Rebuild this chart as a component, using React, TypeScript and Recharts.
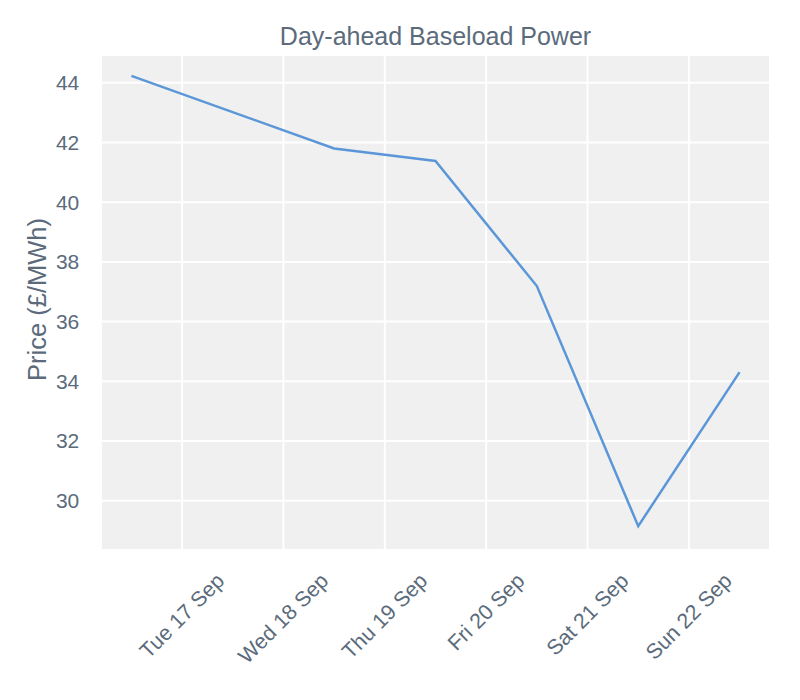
import { LineChart, Line, XAxis, YAxis, CartesianGrid, Label } from "recharts";

// day-ahead prices, one per delivery day (timestamped at midday)
const deliveryDates = [
  "2019-09-16T12:00:00Z",
  "2019-09-18T12:00:00Z",
  "2019-09-19T12:00:00Z",
  "2019-09-20T12:00:00Z",
  "2019-09-21T12:00:00Z",
  "2019-09-22T12:00:00Z",
];
const prices = [44.23, 41.8, 41.38, 37.19, 29.15, 34.31];

const tickDates = [
  "2019-09-17T00:00:00Z",
  "2019-09-18T00:00:00Z",
  "2019-09-19T00:00:00Z",
  "2019-09-20T00:00:00Z",
  "2019-09-21T00:00:00Z",
  "2019-09-22T00:00:00Z",
];
const tickLabels = [
  "Tue 17 Sep",
  "Wed 18 Sep",
  "Thu 19 Sep",
  "Fri 20 Sep",
  "Sat 21 Sep",
  "Sun 22 Sep",
];
const yTicks = [30, 32, 34, 36, 38, 40, 42, 44];
const yDomain = [28.35, 44.93];

const TEXT = "#5b6b7b";
const FONT = "'Liberation Sans', Arial, sans-serif";
const TICK_SIZE = 21.3;

const data = deliveryDates.map((d, i) => ({ t: Date.parse(d), price: prices[i] }));
const xTicks = tickDates.map((d) => Date.parse(d));
const times = data.map((d) => d.t);
const span = Math.max(...times) - Math.min(...times);
const xDomain = [Math.min(...times) - span * 0.05, Math.max(...times) + span * 0.05];

let ctx: CanvasRenderingContext2D | null = null;
function textWidth(s: string) {
  if (!ctx) ctx = document.createElement("canvas").getContext("2d");
  if (!ctx) return s.length * TICK_SIZE * 0.55;
  ctx.font = `${TICK_SIZE}px 'Liberation Sans'`;
  return ctx.measureText(s).width;
}

function DateTick(props: any) {
  const { x, y, payload } = props;
  const idx = xTicks.indexOf(payload.value);
  const label = idx >= 0 ? tickLabels[idx] : "";
  const h = (textWidth(label) + TICK_SIZE * 1.1) * Math.SQRT1_2;
  return (
    <text
      transform={`translate(${x}, ${y + h / 2}) rotate(-45)`}
      textAnchor="middle"
      dominantBaseline="central"
      fill={TEXT}
      fontSize={TICK_SIZE}
      fontFamily={FONT}
    >
      {label}
    </text>
  );
}

function YTitle(props: any) {
  const { viewBox } = props;
  const cx = viewBox.x + 36.7;
  const cy = viewBox.y + viewBox.height / 2 - 3;
  return (
    <text
      transform={`translate(${cx}, ${cy}) rotate(-90)`}
      textAnchor="middle"
      dominantBaseline="central"
      fill={TEXT}
      fontSize={25.5}
      fontFamily={FONT}
    >
      Price (£/MWh)
    </text>
  );
}

export default function App() {
  return (
    <div style={{ position: "absolute", left: 0, top: 0, width: 800, height: 700, background: "#fff" }}>
      <div
        style={{
          position: "absolute",
          left: 101,
          width: 669,
          top: 23.8,
          textAlign: "center",
          fontFamily: FONT,
          fontSize: 25,
          lineHeight: "25px",
          color: TEXT,
          whiteSpace: "nowrap",
        }}
      >
        Day-ahead Baseload Power
      </div>
      <LineChart width={800} height={700} data={data} margin={{ top: 55, right: 30, bottom: 0, left: 0 }}>
        <CartesianGrid stroke="#ffffff" strokeWidth={2} fill="#f0f0f0" fillOpacity={1} />
        <XAxis
          dataKey="t"
          type="number"
          scale="linear"
          domain={xDomain}
          ticks={xTicks}
          allowDataOverflow
          axisLine={false}
          tickLine={false}
          tickSize={0}
          tickMargin={19}
          height={150}
          interval={0}
          tick={<DateTick />}
        />
        <YAxis
          type="number"
          domain={yDomain}
          ticks={yTicks}
          allowDataOverflow
          axisLine={false}
          tickLine={false}
          tickSize={0}
          tickMargin={21.7}
          width={101}
          interval={0}
          tick={{ fill: TEXT, fontSize: 21, fontFamily: FONT }}
        >
          <Label content={<YTitle />} />
        </YAxis>
        <Line
          type="linear"
          dataKey="price"
          stroke="#5b97d8"
          strokeWidth={2.5}
          dot={false}
          activeDot={false}
          isAnimationActive={false}
        />
      </LineChart>
    </div>
  );
}
